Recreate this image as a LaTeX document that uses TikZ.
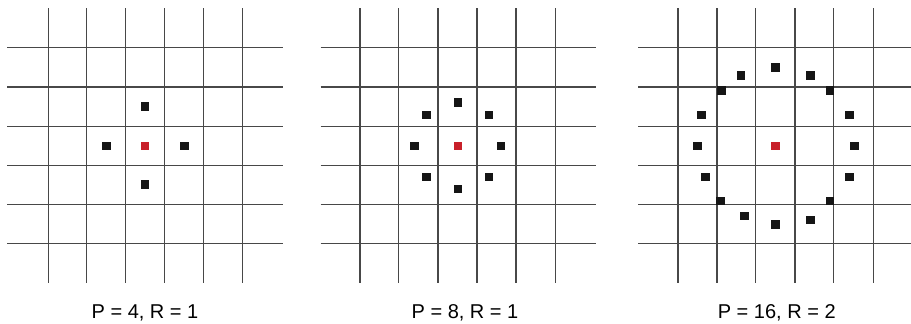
\documentclass[tikz,border=0pt]{standalone}
\usepackage{fontspec}
\setmainfont{Liberation Sans}
\definecolor{gridc}{HTML}{484848}
\definecolor{ctr}{HTML}{C8202A}
\definecolor{dotc}{HTML}{151515}
\begin{document}
\begin{tikzpicture}[x=1pt,y=-1pt,
  gridline/.style={draw=gridc,line width=1.1pt},
  nb/.style={fill=dotc,minimum size=8.5pt,inner sep=0pt,outer sep=0pt,rectangle},
  cen/.style={fill=ctr,minimum size=8.5pt,inner sep=0pt,outer sep=0pt,rectangle},
  captext/.style={font=\fontsize{20}{24}\selectfont,inner sep=0pt,anchor=base}]
\useasboundingbox[fill=white] (0,0) rectangle (911,324);
% ---- grid 1
\foreach \x in {48.3,86.6,125.3,164.3,203.3,242.3}
  \draw[gridline] (\x,8.3) -- (\x,283);
\foreach \y in {47.7,87,126.3,165.7,204.7,243.7}
  \draw[gridline] (7.3,\y) -- (282.7,\y);
\node[cen] (c1) at (145,146) {};
\node[nb] (a1) at (106.3,146) {};
\node[nb] (a2) at (184.3,146) {};
\node[nb] (a3) at (145,106.7) {};
\node[nb] (a4) at (145,184.7) {};
\node[captext] (t1) at (145,318.5) {P = 4, R = 1};
% ---- grid 2
\foreach \x in {360,398.7,438,477,516,555.7}
  \draw[gridline] (\x,8.3) -- (\x,283);
\foreach \y in {47.7,87,126.3,165.7,204.7,243.7}
  \draw[gridline] (320.7,\y) -- (595.7,\y);
\node[cen] (c2) at (458,146) {};
\node[nb] (b1) at (414.7,146) {};
\node[nb] (b2) at (501,146) {};
\node[nb] (b3) at (458,102.3) {};
\node[nb] (b4) at (458,189) {};
\node[nb] (b5) at (426.3,115) {};
\node[nb] (b6) at (489,115) {};
\node[nb] (b7) at (426.3,177) {};
\node[nb] (b8) at (489,177) {};
\node[captext] (t2) at (465,318.5) {P = 8, R = 1};
% ---- grid 3
\foreach \x in {678,717,755.7,795,833.7,873.3}
  \draw[gridline] (\x,8.3) -- (\x,283);
\foreach \y in {47.7,87,126.3,165.7,204.7,243.7}
  \draw[gridline] (638.3,\y) -- (911,\y);
\node[cen] (c3) at (775.3,146) {};
\node[nb] (d1) at (775.3,67.7) {};
\node[nb] (d2) at (741,75.7) {};
\node[nb] (d3) at (810.7,75.7) {};
\node[nb] (d4) at (721.3,90.7) {};
\node[nb] (d5) at (830,90.7) {};
\node[nb] (d6) at (701.3,115) {};
\node[nb] (d7) at (849.3,115) {};
\node[nb] (d8) at (697.7,146) {};
\node[nb] (d9) at (854.3,146) {};
\node[nb] (d10) at (705.3,177) {};
\node[nb] (d11) at (849.3,177) {};
\node[nb] (d12) at (720.7,201) {};
\node[nb] (d13) at (830,201) {};
\node[nb] (d14) at (744.3,216) {};
\node[nb] (d15) at (810.7,220) {};
\node[nb] (d16) at (775.3,224.3) {};
\node[captext] (t3) at (776.7,318.5) {P = 16, R = 2};
\end{tikzpicture}
\end{document}
